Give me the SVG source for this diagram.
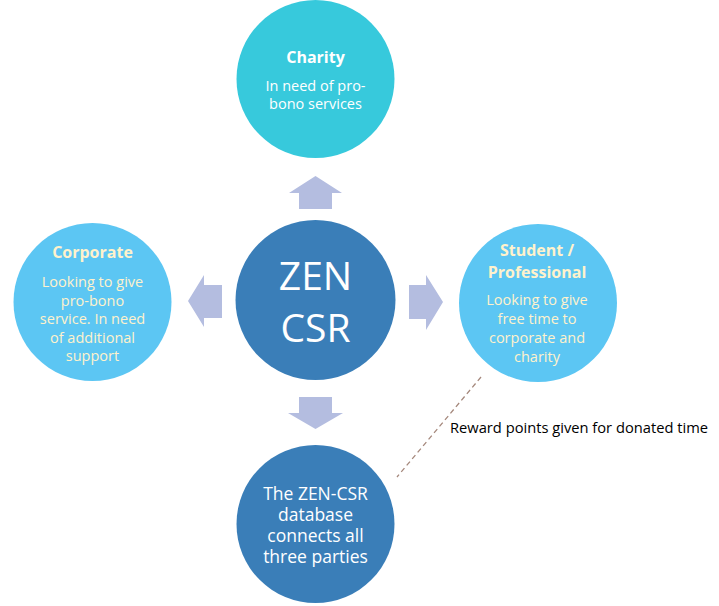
<svg xmlns="http://www.w3.org/2000/svg" width="719" height="606" viewBox="0 0 719 606">
<style>
  text { font-family: "Open Sans", "Liberation Sans", sans-serif; text-anchor: middle; }
  .title { font-weight: bold; font-size: 16px; }
  .body { font-size: 14.5px; }
  .cream { fill: #FFF2CC; }
  .white { fill: #FFFFFF; }
  .arrow { fill: #B4BDE0; }
  .dark { fill: #3A7EB8; }
  .light { fill: #5CC6F3; }
  .cyan { fill: #37C9DC; }
</style>
<rect width="719" height="606" fill="#FFFFFF"/>
<g id="connectors">
  <polygon class="arrow" points="315.5,176 342,193 332,193 332,209 299,209 299,193 289,193"/>
  <polygon class="arrow" points="315.5,429 343,413 332,413 332,397 299,397 299,413 288,413"/>
  <polygon class="arrow" points="188,301 204,275 204,285 222,285 222,318 204,318 204,327"/>
  <polygon class="arrow" points="443,302 426,275 426,285 409,285 409,319 426,319 426,330"/>
  <line x1="481" y1="377" x2="397" y2="477" stroke="#A5887C" stroke-width="1.3" stroke-dasharray="5,3.5"/>
  <text x="450" y="433" style="text-anchor:start;font-size:14.7px" fill="#000000">Reward points given for donated time</text>
</g>
<g id="charity">
  <circle class="cyan" cx="315.5" cy="79" r="79"/>
  <text class="title white" x="315.5" y="63">Charity</text>
  <text class="body white" x="315.5" y="90.5">In need of pro-</text>
  <text class="body white" x="315.5" y="109">bono services</text>
</g>
<g id="zen-csr">
  <circle class="dark" cx="315.5" cy="300" r="80"/>
  <text class="white" x="315.5" y="290" style="font-size:39px">ZEN</text>
  <text class="white" x="315.5" y="342" style="font-size:39px">CSR</text>
</g>
<g id="corporate">
  <circle class="light" cx="92.5" cy="302" r="79"/>
  <text class="title cream" x="92.5" y="257.5">Corporate</text>
  <text class="body cream" x="92.5" y="287">Looking to give</text>
  <text class="body cream" x="92.5" y="305.5">pro-bono</text>
  <text class="body cream" x="92.5" y="324">service. In need</text>
  <text class="body cream" x="92.5" y="342.5">of additional</text>
  <text class="body cream" x="92.5" y="361">support</text>
</g>
<g id="student">
  <circle class="light" cx="538" cy="303" r="79"/>
  <text class="title cream" x="537" y="255.5">Student /</text>
  <text class="title cream" x="537" y="277.5">Professional</text>
  <text class="body cream" x="537" y="305">Looking to give</text>
  <text class="body cream" x="537" y="324">free time to</text>
  <text class="body cream" x="537" y="343">corporate and</text>
  <text class="body cream" x="537" y="362">charity</text>
</g>
<g id="database">
  <circle class="dark" cx="315.5" cy="524" r="79"/>
  <text class="white" x="315.5" y="500" style="font-size:17.5px">The ZEN-CSR</text>
  <text class="white" x="315.5" y="521" style="font-size:17.5px">database</text>
  <text class="white" x="315.5" y="542" style="font-size:17.5px">connects all</text>
  <text class="white" x="315.5" y="563" style="font-size:17.5px">three parties</text>
</g>
</svg>
